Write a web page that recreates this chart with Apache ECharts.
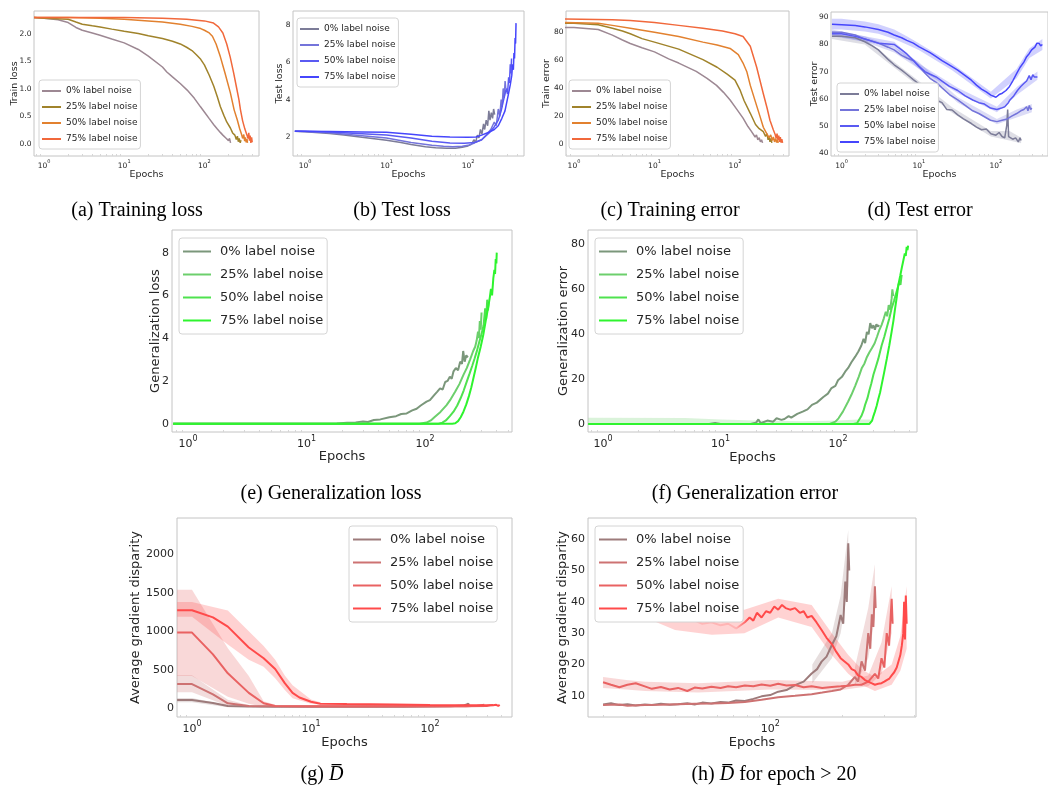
<!DOCTYPE html>
<html>
<head>
<meta charset="utf-8">
<script src="https://cdn.jsdelivr.net/npm/echarts@6/dist/echarts.min.js"></script>
<style>
  html, body { margin: 0; padding: 0; background: #fff; }
  #main { width: 1048px; height: 796px; }
</style>
</head>
<body>
<div id="main"></div>
<script>
// ── Подписи и данные (epoch, value) ──────────────────────────────────────────
var noiseLabels = ['0% label noise', '25% label noise', '50% label noise', '75% label noise'];

// (a) Training loss
var trainLoss0 = [[0.75,2.30],[1,2.29],[1.5,2.26],[2,2.21],[2.5,2.12],[3,2.07],[4,2.02],[5,1.98],[7,1.91],[10,1.84],[15,1.72],[20,1.60],[30,1.40],[34,1.31],[40,1.22],[50,1.10],[61,0.98],[75,0.83],[89,0.68],[100,0.58],[115,0.46],[131,0.35],[145,0.27],[158,0.21],[170,0.16],[180,0.19],[188,0.10],[195,0.13],[200,0.06],[206,0.10],[212,0.02]];
var trainLoss1 = [[0.75,2.30],[1,2.29],[2,2.27],[2.5,2.22],[3,2.18],[4,2.15],[5,2.13],[7,2.09],[10,2.05],[15,2.01],[20,1.97],[30,1.92],[40,1.87],[50,1.82],[60,1.76],[70,1.70],[80,1.62],[90,1.54],[100,1.44],[115,1.25],[131,1.05],[145,0.86],[158,0.68],[175,0.52],[190,0.40],[211,0.29],[225,0.20],[240,0.16],[250,0.08],[258,0.14],[265,0.04],[272,0.10],[280,0.02],[286,0.07]];
var trainLoss2 = [[0.75,2.30],[2,2.30],[5,2.29],[10,2.27],[20,2.24],[30,2.22],[50,2.18],[70,2.14],[90,2.10],[100,2.07],[115,2.02],[126,1.96],[140,1.82],[158,1.59],[180,1.30],[211,0.93],[235,0.62],[257,0.44],[275,0.28],[290,0.18],[300,0.10],[310,0.17],[318,0.05],[325,0.12],[332,0.03],[340,0.09],[345,0.02]];
var trainLoss3 = [[0.75,2.30],[10,2.30],[30,2.29],[60,2.27],[100,2.24],[130,2.20],[150,2.13],[170,2.02],[190,1.82],[210,1.58],[232,1.29],[250,1.05],[270,0.80],[282,0.62],[300,0.42],[320,0.27],[340,0.16],[350,0.10],[358,0.20],[365,0.06],[372,0.15],[380,0.02],[388,0.12],[395,0.03]];

// (b) Test loss
var testLoss0 = [[0.75,2.30],[1,2.28],[2,2.18],[3,2.10],[5,1.98],[10,1.82],[15,1.70],[20,1.60],[30,1.48],[40,1.42],[55,1.39],[70,1.40],[85,1.45],[100,1.52],[110,1.60],[118,1.85],[124,1.70],[130,2.10],[136,1.95],[142,2.40],[148,2.15],[155,2.70],[160,2.40],[167,2.90],[174,2.60],[180,3.40],[186,2.90],[193,3.30],[200,3.00],[206,3.50],[212,3.20]];
var testLoss1 = [[0.75,2.30],[1,2.29],[2,2.22],[5,2.07],[10,1.95],[20,1.70],[36,1.55],[50,1.50],[65,1.48],[85,1.50],[100,1.55],[120,1.68],[147,1.85],[170,2.15],[190,2.40],[210,2.80],[222,2.60],[235,3.50],[245,3.10],[255,4.00],[262,3.60],[270,4.60],[278,4.10],[285,5.00],[290,4.60]];
var testLoss2 = [[0.75,2.30],[1,2.30],[2,2.26],[5,2.17],[10,2.10],[20,1.95],[36,1.77],[60,1.68],[90,1.66],[120,1.70],[147,1.85],[180,2.20],[210,2.55],[235,2.90],[255,3.40],[270,3.90],[284,4.00],[295,4.60],[305,4.30],[315,5.20],[322,4.90],[330,5.90],[336,5.40],[342,6.20]];
var testLoss3 = [[0.75,2.30],[2,2.29],[5,2.27],[10,2.25],[20,2.15],[36,2.04],[60,2.00],[100,1.98],[125,2.00],[147,2.10],[180,2.25],[210,2.40],[235,2.60],[260,3.00],[284,3.40],[310,4.20],[330,4.80],[344,5.30],[352,5.90],[360,5.60],[366,6.50],[372,6.20],[378,7.30],[383,7.00],[388,8.10]];

// (c) Training error
var trainErr0 = [[0.75,83.5],[1,83.5],[2,82],[3,78],[4,74.5],[5,72],[7,69],[10,66],[15,61],[20,58],[33,52],[45,47],[59,42],[72,37],[87,31.5],[105,25],[126,18.5],[145,12.5],[160,9],[168,7.6],[178,5],[185,6.5],[192,3],[200,4.5],[207,1.5],[214,3],[220,0.8]];
var trainErr1 = [[0.75,86.5],[1,86.5],[2,85.5],[3,83],[4,81],[5,79],[7,75.5],[10,73],[20,68],[40,60.5],[60,55],[80,50],[100,45.8],[115,39],[130,31],[155,22],[180,14],[200,11],[225,8.8],[240,5.5],[250,7.5],[258,3],[265,5.5],[272,1.5],[280,4],[287,0.8]];
var trainErr2 = [[0.75,87],[2,86.5],[3,85],[5,83],[10,80],[20,77],[40,73],[60,71],[87,68.5],[110,64],[126,58],[140,52],[155,42],[180,30],[205,19.6],[225,12],[247,7.6],[265,4.5],[278,6.5],[290,2.5],[300,5],[310,1.5],[320,4],[330,1],[338,3],[345,0.8]];
var trainErr3 = [[0.75,89.5],[3,89],[5,88.5],[10,87],[20,85],[40,83],[70,81],[100,79],[126,77],[155,70],[186,55],[225,36],[250,26],[272,17],[300,10],[315,7],[325,4],[333,7.5],[342,3],[350,6],[358,1.5],[366,5],[374,1],[382,3.5],[390,0.8]];

// (d) Test error + полосы [epoch, lo, hi]
var testErr0 = [[0.75,83],[1,83],[1.5,82.5],[2,81],[2.5,79.5],[3,78],[4,74.5],[4.8,72.5],[6,70.5],[7,69],[8.5,67],[10,65.5],[12,62.5],[14,61.5],[16.8,59.5],[20,58.5],[23,56],[27,55.8],[32,54],[38,52.5],[48,50.8],[56,49.5],[65,48.5],[75,48.8],[86,47],[100,46.5],[110,47.5],[120,46],[130,45.5],[138,50],[142,56],[146,46],[152,46.5],[165,45],[180,45.5],[195,44],[205,45.5],[212,44.5]];
var testErr1 = [[0.75,84.5],[1,84.5],[1.5,83.5],[2,82],[3,80.5],[4,79],[4.8,78],[6,76],[7,75],[8.6,74],[10,72],[12,69.5],[14,67.5],[16.8,66],[20,64],[25,61.5],[32,59.5],[40,57.5],[50,55.5],[60,54.5],[71,53.3],[85,52],[103,51.5],[120,52],[140,52.5],[160,53.5],[186,54.5],[210,55.5],[230,56],[250,57],[260,55.5],[271,57.5],[282,56],[292,56.5]];
var testErr2 = [[0.75,84],[1,84],[1.5,83],[2,82],[3,80.5],[4,80.2],[4.8,80],[6,78],[7,76.5],[8.6,74],[10,72],[12,70],[14,69],[16.8,68],[20,66.5],[25,64.5],[32,63],[40,61],[50,59.5],[60,58.5],[71,58],[85,56.5],[103,56],[118,56.5],[130,57],[145,58.5],[152,59.5],[170,61],[190,63],[210,64.5],[230,65.6],[250,66.5],[270,68.5],[285,67],[300,68.8],[315,68],[330,68.7],[345,68]];
var testErr3 = [[0.75,87.5],[1,87.3],[1.5,87],[2,86.5],[3,85.5],[4,84.5],[4.8,83.5],[6,82.5],[7,81.5],[8.5,80.5],[10,79.2],[12,78],[14,77],[16.8,75.5],[20,74],[23,73],[27,71.8],[32,70.5],[40,68.5],[48,66.8],[56,65],[65,63.5],[75,62.5],[86,61.3],[100,60.5],[110,61.5],[121,62],[135,63],[150,64.5],[165,66.5],[186,69.3],[205,71.5],[230,73.5],[250,75.5],[271,76.7],[290,78],[320,79],[340,80.5],[363,80.4],[380,79.5],[400,80]];
var testErrBand0 = [[0.75,82,84],[2,80,82],[4.8,71.5,73.5],[10,64.5,66.5],[27,54.8,56.8],[86,46,48],[150,44.5,48],[212,43.5,45.5]];
var testErrBand1 = [[0.75,83.5,85.5],[2,81,83],[4.8,77,79],[10,71,73.5],[32,58.5,60.5],[103,50.5,52.5],[186,53,56],[292,55,58]];
var testErrBand2 = [[0.75,83,85],[2,81,83],[4.8,79,81],[10,71,73],[32,62,64],[103,55,57],[190,61.5,64.5],[345,67,70]];
var testErrBand3 = [[0.75,85.5,89.5],[1,85.5,89.5],[2,84.8,88.5],[3,84,87.5],[4.8,82,85.5],[7,80,83],[10,78,80.5],[27,70.5,73],[86,60,62.5],[186,67.5,71],[271,75,78.5],[400,78,82]];

// (e) Generalization loss
var genLoss0 = [[0.75,0],[10,0],[18,0.01],[22,0.04],[26,0.06],[30,0.1],[33,0.08],[37,0.17],[42,0.2],[50,0.3],[57,0.35],[63,0.45],[70,0.48],[78,0.62],[85,0.7],[92,0.85],[103,1.03],[110,1.1],[120,1.35],[127,1.5],[134,1.65],[141,1.6],[148,1.95],[155,2.0],[162,2.2],[168,2.1],[174,2.45],[182,2.6],[190,2.5],[198,2.9],[205,2.8],[210,3.4],[216,2.9],[223,3.2],[230,3.1]];
var genLoss1 = [[0.75,0],[90,0],[103,0.05],[112,0.15],[120,0.3],[135,0.55],[152,0.87],[165,1.15],[180,1.5],[195,1.85],[211,2.28],[225,2.6],[240,3.0],[255,3.4],[265,3.6],[273,3.9],[280,4.3],[285,4.0],[290,4.8],[295,4.4],[300,5.2]];
var genLoss2 = [[0.75,0],[130,0],[140,0.05],[150,0.15],[162,0.35],[174,0.56],[187,0.85],[200,1.2],[212,1.55],[225,1.97],[238,2.35],[250,2.7],[262,3.05],[273,3.37],[286,3.8],[300,4.2],[312,4.6],[322,5.4],[328,4.9],[335,5.8],[340,5.3],[345,5.7]];
var genLoss3 = [[0.75,0],[170,0],[180,0.02],[190,0.12],[200,0.3],[211,0.56],[223,0.9],[235,1.3],[246,1.7],[256,2.12],[268,2.6],[280,3.1],[295,3.6],[310,4.15],[325,4.8],[340,5.4],[352,5.9],[360,6.3],[368,6.0],[377,6.8],[385,7.2],[390,7.0],[395,7.7],[400,7.5],[403,8.0]];

// (f) Generalization error
var genErr0 = [[0.75,0],[8,0],[9,0.4],[10,0],[18,0],[20,0.5],[21,2],[22,0.3],[25,1.5],[28,1],[30,2.5],[33,1.8],[35,2.2],[38,3.5],[40,2.8],[45,4.5],[50,5.5],[55,6.5],[60,8.5],[66,9.5],[75,12],[82,13.5],[88,16],[95,17],[100,19.5],[108,21],[115,23.3],[122,25],[130,27.5],[140,30],[149,32.3],[158,35],[165,38],[170,36],[176,41],[182,40],[188,45],[194,42.7],[200,44],[206,42],[212,44.5],[218,43.5],[225,44]];
var genErr1 = [[0.75,0],[85,0],[95,1],[101,2.5],[110,5.5],[122,10],[130,13],[140,17],[150,21],[159,24.8],[168,27],[175,29.5],[185,32],[194,33.8],[205,36],[215,39],[225,42],[235,44.2],[245,47],[255,50],[262,48],[270,53],[278,51],[286,56],[290,60],[295,57]];
var genErr2 = [[0.75,0],[135,0],[145,0.3],[150,0.8],[158,3.5],[165,6],[170,8.5],[178,11.5],[185,15],[192,18],[200,21.9],[210,25.5],[220,29],[235,35],[248,39],[260,43],[273,47],[286,51.6],[300,55],[315,59],[325,61.5],[333,63.5],[340,62],[348,66.5]];
var genErr3 = [[0.75,0],[185,0],[190,0.5],[195,1.5],[200,3.5],[206,5.5],[213,8],[220,11],[228,14],[235,17.4],[247,23],[260,29],[273,35],[286,41.2],[296,46],[305,51],[315,56],[326,62],[338,66],[350,70],[360,73],[370,76],[377,75],[384,79],[390,77.5],[395,79.5]];
var genErrBandLow = [[0.75,-0.5,2.8],[5,-0.5,2.6],[10,-0.3,2.0],[20,-0.3,1.5],[50,-0.3,1.2],[100,-0.2,1.5],[150,0,2],[190,0,2]];

// (g) Average gradient disparity
var gradDisp0 = [[0.75,108],[1,108],[1.5,70],[2,30],[3,22],[5,20],[10,20],[30,20],[60,21],[100,22],[150,25],[190,35],[200,45],[205,30],[210,60],[213,35]];
var gradDisp1 = [[0.75,315],[1,315],[1.5,180],[2,65],[3,30],[5,25],[10,24],[30,24],[100,25],[200,27],[250,32],[270,40],[280,30],[286,45]];
var gradDisp2 = [[0.75,983],[1,983],[1.5,700],[2,455],[3,200],[4,65],[5,30],[10,26],[30,26],[100,26],[200,27],[300,30],[320,40],[330,28],[340,42]];
var gradDisp3 = [[0.75,1273],[1,1273],[1.5,1180],[2,1060],[3,790],[4,650],[5,510],[6,330],[7,200],[8,140],[10,85],[12,60],[20,55],[50,48],[100,42],[200,38],[300,38],[340,40],[360,45],[375,30],[385,45]];
var gradBand0 = [[0.75,80,135],[1,80,135],[2,15,40],[3,15,30]];
var gradBand1 = [[0.75,210,430],[1,210,430],[2,30,110],[3,15,40],[4,15,30]];
var gradBand2 = [[0.75,420,1540],[1,420,1540],[2,150,780],[3,60,420],[4,20,90],[5,15,45]];
var gradBand3 = [[0.75,1190,1380],[1,1190,1380],[2,830,1270],[3,630,1000],[4,540,810],[5,390,630],[6,240,430],[7,130,300],[10,60,115],[12,45,80]];

// (h) Average gradient disparity, epoch > 20
var gdLate0 = [[20,7.2],[21.6,7.6],[23.4,7.0],[25.3,7.3],[27.4,6.9],[29.9,7.2],[32,7.0],[34.9,7.4],[38,7.1],[41.2,7.3],[45,7.6],[48.3,7.2],[52,7.8],[56.8,7.5],[62,8.0],[66.7,7.8],[72,8.5],[78.3,8.3],[85,9.0],[92,9.8],[100,10.2],[108,11.3],[117,11.8],[127,13.4],[138,14.5],[149,17.1],[157,18.5],[164,20.9],[172,22.5],[181,26.2],[189,29],[197,35.8],[202,33],[206,46.5],[209,40],[212,58.7],[214,50]];
var gdLate1 = [[20,7.0],[23.4,7.2],[25.3,6.8],[29.9,7.0],[34.9,7.1],[41.2,7.3],[48.3,7.4],[56.8,7.5],[66.7,7.7],[78.3,8.0],[92,8.7],[108,9.5],[127,10.0],[149,10.5],[165,11.0],[181,11.5],[197,12.0],[212,13.5],[226,16],[233,14.5],[241,21],[249,18],[257,30],[262,25],[266,36],[270,32],[274,45],[276,38]];
var gdLate2 = [[20,14.3],[21.6,13.5],[23.4,12.7],[25.3,13.5],[27.4,14.0],[29.9,13.0],[32,12.2],[34.9,12.8],[38,12.0],[41.2,12.5],[45,11.5],[48.3,12.6],[52,12.3],[56.8,12.9],[62,12.5],[66.7,13.0],[72,12.7],[78.3,13.3],[85,13.0],[92,13.6],[100,13.2],[108,13.8],[117,13.3],[127,13.4],[138,12.7],[149,13.0],[165,12.5],[181,12.8],[197,13.0],[212,13.2],[226,13.5],[241,13.5],[257,14.5],[274,17],[283,15.5],[292,22],[300,19],[307,30],[314,26],[322,41],[325,33]];
var gdLate3 = [[20,48],[21.6,49.5],[23.4,46],[25.3,44],[27.4,43],[29.9,40],[32,39],[34.9,37.5],[38,36],[41.2,35],[45,34.5],[48.3,34],[52,33],[56.8,33.5],[62,32.5],[66.7,33],[72,31.5],[78.3,33.5],[82,35],[85,34],[88,36.5],[92,35],[96,37],[100,36.5],[104,38.5],[108,37.5],[112,39],[116,38],[121,37.5],[127,38],[133,36.5],[138,37],[143,35],[149,35.5],[156,33.5],[164,31],[172,28.5],[181,26.5],[189,24],[197,22],[204,21],[212,20],[219,18.5],[226,18],[233,16.5],[241,16],[249,15],[257,14.5],[265,14],[274,13.5],[283,13.8],[292,14],[300,14.5],[307,15],[315,15.5],[322,16.5],[330,17.5],[338,19],[344,21],[350,23],[355,26],[360,30],[363,40],[366,28],[369,42],[372,33]];
var gdLateBand0 = [[150,14,20],[181,22,30],[197,30,42],[212,45,63]];
var gdLateBand1 = [[226,13,19],[257,22,38],[274,35,52]];
var gdLateBand2 = [[20,12.5,16],[25,12,15],[30,11.5,14.5],[50,11,14],[100,12,15],[200,11.8,14.5],[257,13,16.5],[292,17,27],[322,30,45]];
var gdLateBand3 = [[20,44,54],[25,39,50],[30,35,44],[40,31,40],[57,29.5,38],[78,30,37.5],[108,35,41],[149,32,39],[181,23,30],[212,17,23],[241,13.5,18.5],[274,11.5,16],[322,13.5,20],[350,18,29],[372,25,45]];

// ── Цвета ───────────────────────────────────────────────────────────────────
var warmColors  = ['#9d8893', '#a0832b', '#e2812f', '#f1683b'];
var blueColors  = ['#7c7c98', '#7474da', '#5a5af2', '#4646fc'];
var greenColors = ['#7b977b', '#6ccf6c', '#4fe24f', '#2ef42e'];
var redColors   = ['#9d7b7b', '#cd7272', '#e96262', '#ff4a4a'];

function rgba(hex, a) {
  var n = parseInt(hex.slice(1), 16);
  return 'rgba(' + (n >> 16) + ',' + ((n >> 8) & 255) + ',' + (n & 255) + ',' + a + ')';
}

// ── Панели: геометрия и оси ─────────────────────────────────────────────────
var panels = [
  { key: 'a', grid: [34, 11, 225, 145],  x: [0.75, 480], y: [-0.22, 2.42], step: 0.5, dec: 1, yName: 'Train loss',
    yGap: 14, xGap: 14, legend: [39, 80], big: false, colors: warmColors, lines: [trainLoss0, trainLoss1, trainLoss2, trainLoss3], bands: [] },
  { key: 'b', grid: [293, 11, 231, 145], x: [0.712, 486], y: [0.98, 8.75], step: 2, dec: 0, yName: 'Test loss',
    yGap: 8, xGap: 14, legend: [297, 18], big: false, colors: blueColors, lines: [testLoss0, testLoss1, testLoss2, testLoss3], bands: [] },
  { key: 'c', grid: [566, 11, 223, 145], x: [0.796, 469], y: [-8.6, 95.3], step: 20, dec: 0, yName: 'Train error',
    yGap: 14, xGap: 14, legend: [569, 80], big: false, colors: warmColors, lines: [trainErr0, trainErr1, trainErr2, trainErr3], bands: [] },
  { key: 'd', grid: [831, 12, 225, 144], x: [0.729, 473], y: [38.8, 92], step: 10, dec: 0, yName: 'Test error',
    yGap: 11, xGap: 14, legend: [837, 83], big: false, colors: blueColors, lines: [testErr0, testErr1, testErr2, testErr3],
    bands: [[testErrBand0, 0], [testErrBand1, 1], [testErrBand2, 2], [testErrBand3, 3]] },
  { key: 'e', grid: [172, 230, 340, 202], x: [0.733, 542], y: [-0.39, 9.06], step: 2, dec: 0, yName: 'Generalization loss',
    yGap: 10, xGap: 18, legend: [179, 238], big: true, colors: greenColors, lines: [genLoss0, genLoss1, genLoss2, genLoss3], bands: [] },
  { key: 'f', grid: [588, 230, 329, 202], x: [0.745, 470], y: [-3.6, 86.5], step: 20, dec: 0, yName: 'Generalization error',
    yGap: 18, xGap: 19, legend: [595, 238], big: true, colors: greenColors, lines: [genErr0, genErr1, genErr2, genErr3],
    bands: [[genErrBandLow, 1]] },
  { key: 'g', grid: [177, 518, 335, 199], x: [0.748, 489], y: [-113, 2471], step: 500, dec: 0, yName: 'Average gradient disparity',
    yGap: 35, xGap: 19, legend: [349, 526], big: true, colors: redColors, lines: [gradDisp0, gradDisp1, gradDisp2, gradDisp3],
    bands: [[gradBand0, 0], [gradBand1, 1], [gradBand2, 2], [gradBand3, 3]] },
  { key: 'h', grid: [588, 518, 328, 199], x: [17.3, 407], y: [3.2, 66.8], step: 10, dec: 0, yName: 'Average gradient disparity',
    yGap: 19, xGap: 19, legend: [595, 526], big: true, colors: redColors, lines: [gdLate0, gdLate1, gdLate2, gdLate3],
    bands: [[gdLateBand0, 0], [gdLateBand1, 1], [gdLateBand2, 2], [gdLateBand3, 3]] }
];

var captions = [
  ['(a) Training loss', 137, 211], ['(b) Test loss', 402, 211], ['(c) Training error', 670, 211], ['(d) Test error', 920, 211],
  ['(e) Generalization loss', 331, 494], ['(f) Generalization error', 745, 494],
  ['(g) {d|D\u0305}', 322, 775], ['(h) {d|D\u0305} for epoch > 20', 774, 775]
];

// ── Подписи оси log: 10^n ───────────────────────────────────────────────────
function logLabel(v) {
  var p = Math.log10(v);
  var r = Math.round(p);
  if (Math.abs(p - r) > 1e-6) return '';
  return '{b|10}{s|' + r + '}';
}

function stepLabel(step, dec) {
  return function (v) {
    var k = v / step;
    if (Math.abs(k - Math.round(k)) > 1e-6) return '';
    return (Math.round(k) * step).toFixed(dec);
  };
}

// значения делений: кратные шагу внутри диапазона
function linearTicks(min, max, step) {
  var out = [];
  for (var k = Math.ceil(min / step - 1e-9); k * step <= max + 1e-9; k++) out.push(+(k * step).toFixed(6));
  return out;
}
function logTicks(min, max, minor) {
  var out = [];
  for (var e = -1; e <= 3; e++) {
    var base = Math.pow(10, e);
    var muls = minor ? [2, 3, 4, 5, 6, 7, 8, 9] : [1];
    muls.forEach(function (m) {
      var v = +(m * base).toPrecision(6);
      if (v >= min && v <= max) out.push(v);
    });
  }
  return out;
}

function bandSeries(band, color, idx) {
  return {
    type: 'custom', xAxisIndex: idx, yAxisIndex: idx, silent: true, clip: true, z: 1,
    data: band, encode: { x: 0, y: [1, 2] },
    renderItem: function (params, api) {
      if (params.dataIndex !== 0) return null;
      var up = [], lo = [];
      band.forEach(function (d) {
        up.push(api.coord([d[0], d[2]]));
        lo.push(api.coord([d[0], d[1]]));
      });
      return { type: 'polygon', shape: { points: up.concat(lo.reverse()) }, style: { fill: color } };
    }
  };
}

var grids = [], xAxes = [], xMinorAxes = [], yAxes = [], legends = [], series = [];

panels.forEach(function (p, i) {
  var tickFs = p.big ? 11 : 7.5;
  var nameFs = p.big ? 13 : 9.5;
  grids.push({ left: p.grid[0], top: p.grid[1], width: p.grid[2], height: p.grid[3],
    show: true, borderColor: '#c4c4c4', borderWidth: 1, backgroundColor: 'transparent' });

  var majors = logTicks(p.x[0], p.x[1], false);
  xAxes.push({
    type: 'log', logBase: 10, gridIndex: i, min: p.x[0], max: p.x[1], position: 'bottom',
    axisLine: { show: false }, splitLine: { show: false }, axisTick: { show: false },
    axisLabel: { formatter: logLabel, customValues: majors, margin: 3, color: '#262626',
      rich: { b: { fontSize: tickFs, verticalAlign: 'bottom', lineHeight: tickFs + 4, color: '#262626' },
              s: { fontSize: Math.round(tickFs * 0.72), verticalAlign: 'top', color: '#262626' } } },
    name: 'Epochs', nameLocation: 'middle', nameGap: p.xGap, nameMoveOverlap: false,
    nameTextStyle: { fontSize: nameFs, color: '#262626' }
  });
  // бледные мелкие деления 2..9 внутри рамки
  xMinorAxes.push({
    type: 'log', logBase: 10, gridIndex: i, min: p.x[0], max: p.x[1], position: 'bottom',
    axisLine: { show: false }, splitLine: { show: false }, axisLabel: { show: false },
    axisTick: { show: true, inside: true, length: 2, customValues: logTicks(p.x[0], p.x[1], true),
      lineStyle: { color: '#d6d6d6' } }
  });

  var yt = linearTicks(p.y[0], p.y[1], p.step);
  yAxes.push({
    type: 'value', gridIndex: i, min: p.y[0], max: p.y[1],
    axisLine: { show: false }, splitLine: { show: false }, axisTick: { show: false },
    axisLabel: { formatter: stepLabel(p.step, p.dec), customValues: yt, fontSize: tickFs,
      margin: p.big ? 3 : 2.5, color: '#262626' },
    name: p.yName, nameLocation: 'middle', nameGap: p.yGap, nameMoveOverlap: false,
    nameTextStyle: { fontSize: nameFs, color: '#262626' }
  });

  p.bands.forEach(function (b) {
    series.push(bandSeries(b[0], rgba(p.colors[b[1]], 0.25), i));
  });

  var names = [];
  p.lines.forEach(function (data, k) {
    var name = p.key + '|' + noiseLabels[k];
    names.push(name);
    var lineColor = p.colors[k];
    // в (h) начало кривой 75% бледное
    if (p.key === 'h' && k === 3) {
      lineColor = new echarts.graphic.LinearGradient(0, 0, 1, 0, [
        { offset: 0, color: '#ffbcbc' }, { offset: 0.44, color: '#ffb4b4' },
        { offset: 0.48, color: p.colors[k] }, { offset: 1, color: p.colors[k] }
      ]);
    }
    series.push({
      name: name, type: 'line', xAxisIndex: i, yAxisIndex: i, data: data,
      showSymbol: false, symbol: 'none', clip: true, z: 2,
      lineStyle: { width: p.big ? 2 : 1.5, color: lineColor },
      itemStyle: { color: p.colors[k] }
    });
  });

  legends.push({
    orient: 'vertical', left: p.legend[0], top: p.legend[1], data: names, selectedMode: false,
    icon: 'rect', itemWidth: p.big ? 28 : 19, itemHeight: 2, itemGap: 0,
    padding: p.big ? [2, 4, 2, 4] : [3, 3, 2, 3],
    backgroundColor: '#fff', borderColor: '#d4d4d4', borderWidth: 1, borderRadius: 3,
    textStyle: { fontSize: p.big ? 13 : 9, lineHeight: p.big ? 23 : 16, color: '#262626',
      padding: p.big ? [0, 0, 0, 4] : 0 },
    formatter: function (n) { return n.split('|')[1]; }
  });
});

var graphics = captions.map(function (c) {
  return { type: 'text', x: c[1], y: c[2],
    style: { text: c[0], textAlign: 'center', textVerticalAlign: 'middle',
      font: '20px "Liberation Serif"', fill: '#000',
      rich: { d: { fontStyle: 'italic', fontSize: 20, fontFamily: 'Liberation Serif' } } } };
});

var chart = echarts.init(document.getElementById('main'));
chart.setOption({
  animation: false,
  textStyle: { fontFamily: 'DejaVu Sans' },
  grid: grids, xAxis: xAxes.concat(xMinorAxes), yAxis: yAxes, legend: legends,
  series: series, graphic: graphics
});
</script>
</body>
</html>
